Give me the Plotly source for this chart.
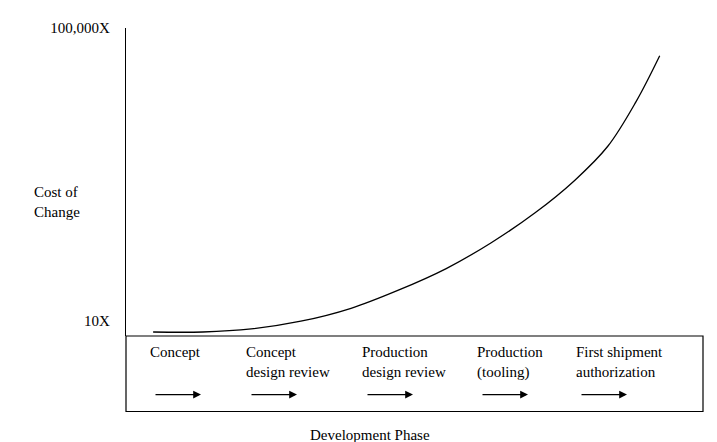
import plotly.graph_objects as go

# ====== data ======
progress = [4.7, 13.3, 21.7, 30.3, 39.0, 47.1, 55.5, 63.3, 70.9, 77.8, 83.5, 88.4, 92.5]
cost = [1.3, 1.3, 2.3, 4.8, 9.0, 14.8, 21.9, 30.3, 40.0, 50.6, 61.6, 76.1, 91.0]
y_ticks = [4.8, 100]
y_tick_labels = ["10X", "100,000X"]
phases = ["Concept", "Concept<br>design review", "Production<br>design review",
          "Production<br>(tooling)", "First shipment<br>authorization"]
phase_left = [140, 236, 352, 467, 566]     # pixel positions of labels

W, H = 717, 442
L, R, T, B = 118, 22, 18, 114


def px(x):
    return (x - L) / (W - L - R)


def py(y):
    return (H - B - y) / (H - B - T)


FONT = "Liberation Serif, Times New Roman, serif"

fig = go.Figure(go.Scatter(x=progress, y=cost, mode="lines",
                           line=dict(color="black", width=1.3, shape="spline"),
                           hoverinfo="skip"))

shapes = [
    dict(type="rect", xref="paper", yref="paper", x0=px(118), x1=px(695),
         y0=py(404), y1=py(328), line=dict(color="black", width=1.2)),
    dict(type="line", xref="paper", yref="paper", x0=px(0), x1=px(700),
         y0=py(437), y1=py(437), line=dict(color="#555", width=1.2)),
]
annotations = [
    dict(text="Cost of<br>Change", xref="paper", yref="paper", x=px(24), y=py(193),
         xanchor="left", yanchor="middle", showarrow=False, align="left",
         font=dict(size=15, family=FONT, color="black")),
    dict(text="Development Phase", xref="paper", yref="paper", x=px(362), y=py(428),
         xanchor="center", yanchor="middle", showarrow=False,
         font=dict(size=15, family=FONT, color="black")),
]
for name, left in zip(phases, phase_left):
    annotations.append(dict(text=name, xref="paper", yref="paper", x=px(left), y=py(334),
                            xanchor="left", yanchor="top", showarrow=False, align="left",
                            font=dict(size=15, family=FONT, color="black")))
    annotations.append(dict(text="", xref="paper", yref="paper",
                            x=px(left + 53), y=py(387), ax=-47, ay=0,
                            showarrow=True, arrowhead=2, arrowsize=1.2, arrowwidth=1.3,
                            arrowcolor="black"))

fig.update_layout(
    width=W, height=H, margin=dict(l=L, r=R, t=T, b=B),
    paper_bgcolor="white", plot_bgcolor="white", showlegend=False,
    font=dict(family=FONT, size=15, color="black"),
    xaxis=dict(range=[0, 100], visible=False),
    yaxis=dict(range=[0, 100], showgrid=False, zeroline=False, showline=True,
               linecolor="black", linewidth=1.2, tickvals=y_ticks, ticktext=y_tick_labels,
               ticks="", ticklabelstandoff=12),
    shapes=shapes, annotations=annotations,
)
fig.write_html("out.html")
